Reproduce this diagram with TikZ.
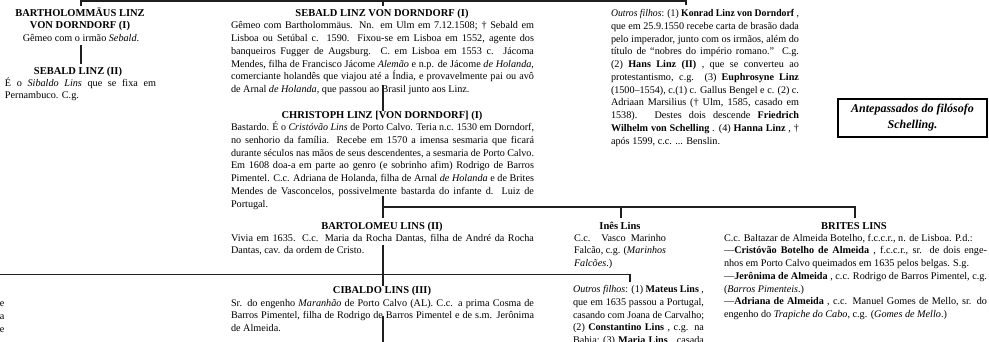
\documentclass[tikz,border=0pt]{standalone}
\usepackage{fontspec}
\setmainfont{Liberation Serif}
\usepackage{graphicx}
\newlength\jw
\newlength\LW
\newcommand\jline[1]{\settowidth{\jw}{#1}\ifdim\jw>\LW\resizebox{\LW}{\height}{#1}\else\makebox[\LW][s]{#1}\fi\par}
\newcommand\jlast[1]{\settowidth{\jw}{#1}\ifdim\jw>\LW\resizebox{\LW}{\height}{#1}\else\mbox{#1}\fi\par}
\newcommand\tblock[2]{\vtop{\setlength\LW{#1}\hsize=\LW\parindent=0pt\parskip=0pt\fontsize{10.2}{12.77}\selectfont #2}}
\tikzset{
  ttl/.style={anchor=base, inner sep=0pt, outer sep=0pt, font=\fontsize{10.5}{12}\selectfont\bfseries},
  txt/.style={anchor=base west, inner sep=0pt, outer sep=0pt},
  bodyc/.style={anchor=base, inner sep=0pt, outer sep=0pt, font=\fontsize{10.2}{12.77}\selectfont},
  conn/.style={line width=1.2pt, draw=black!88},
  notebox/.style={draw=black, line width=2pt, inner sep=0pt, minimum width=149pt, minimum height=38.5pt, align=center,
    font=\fontsize{12}{15.5}\selectfont\bfseries\itshape}
}
\begin{document}
\begin{tikzpicture}[x=1pt,y=-1pt]
\useasboundingbox (0,0) rectangle (989,341);
\clip (0,0) rectangle (989,341);

% ---------- row 1 ----------
\node[ttl] (bartA) at (80,16.5) {BARTHOLOMMÄUS LINZ};
\node[ttl] (bartB) at (80,28.8) {VON DORNDORF (I)};
\node[bodyc] (bartC) at (81,41.5) {Gêmeo com o irmão \textit{Sebald}.};
\node[ttl] (sebII) at (78,74.5) {SEBALD LINZ (II)};
\node[txt] (sebIIt) at (5,86) {\tblock{151pt}{%
\jline{É o \textit{Sibaldo Lins} que se fixa em}
\jlast{Pernambuco. C.g.}}};

\node[ttl] (sebI) at (382,16.5) {SEBALD LINZ VON DORNDORF (I)};
\node[txt] (sebIt) at (231,28.8) {\tblock{303pt}{%
\jline{Gêmeo com Bartholommäus. Nn. em Ulm em 7.12.1508; † Sebald em}
\jline{Lisboa ou Setúbal c. 1590. Fixou-se em Lisboa em 1552, agente dos}
\jline{banqueiros Fugger de Augsburg. C. em Lisboa em 1553 c. Jácoma}
\jline{Mendes, filha de Francisco Jácome \textit{Alemão} e n.p. de Jácome \textit{de Holanda},}
\jline{comerciante holandês que viajou até a Índia, e provavelmente pai ou avô}
\jlast{de Arnal \textit{de Holanda}, que passou ao Brasil junto aos Linz.}}};

\node[txt] (outA) at (611,16.5) {\tblock{188pt}{%
\jline{\textit{Outros filhos}: (1) \textbf{Konrad Linz von Dorndorf} ,}
\jline{que em 25.9.1550 recebe carta de brasão dada}
\jline{pelo imperador, junto com os irmãos, além do}
\jline{título de “nobres do império romano.” C.g.}
\jline{(2) \textbf{Hans Linz (II)} , que se converteu ao}
\jline{protestantismo, c.g. (3) \textbf{Euphrosyne Linz}}
\jline{(1500–1554), c.(1) c. Gallus Bengel e c. (2) c.}
\jline{Adriaan Marsilius († Ulm, 1585, casado em}
\jline{1538). Destes dois descende \textbf{Friedrich}}
\jline{\textbf{Wilhelm von Schelling} . (4) \textbf{Hanna Linz} , †}
\jlast{após 1599, c.c. ... Benslin.}}};

\node[notebox] (note) at (912.5,117.75) {Antepassados do filósofo\\Schelling.};

\node[ttl] (chr) at (382,118.5) {CHRISTOPH LINZ [VON DORNDORF] (I)};
\node[txt] (chrt) at (231,130.5) {\tblock{303pt}{%
\jline{Bastardo. É o \textit{Cristóvão Lins} de Porto Calvo. Teria n.c. 1530 em Dorndorf,}
\jline{no senhorio da família. Recebe em 1570 a imensa sesmaria que ficará}
\jline{durante séculos nas mãos de seus descendentes, a sesmaria de Porto Calvo.}
\jline{Em 1608 doa-a em parte ao genro (e sobrinho afim) Rodrigo de Barros}
\jline{Pimentel. C.c. Adriana de Holanda, filha de Arnal \textit{de Holanda} e de Brites}
\jline{Mendes de Vasconcelos, possivelmente bastarda do infante d. Luiz de}
\jlast{Portugal.}}};

% ---------- row 2 ----------
\node[ttl] (bart2) at (382,229) {BARTOLOMEU LINS (II)};
\node[txt] (bart2t) at (231,241) {\tblock{303pt}{%
\jline{Vivia em 1635. C.c. Maria da Rocha Dantas, filha de André da Rocha}
\jlast{Dantas, cav. da ordem de Cristo.}}};

\node[ttl] (ines) at (620,229) {Inês Lins};
\node[txt] (inest) at (574,241) {\tblock{92pt}{%
\jline{C.c. Vasco Marinho}
\jline{Falcão, c.g. (\textit{Marinhos}}
\jlast{\textit{Falcões}.)}}};

\node[ttl] (brites) at (854,229) {BRITES LINS};
\node[txt] (britest) at (724,241) {\tblock{263pt}{%
\jlast{C.c. Baltazar de Almeida Botelho, f.c.c.r., n. de Lisboa. P.d.:}
\jline{—\textbf{Cristóvão Botelho de Almeida} , f.c.c.r., sr. de dois enge-}
\jlast{nhos em Porto Calvo queimados em 1635 pelos belgas. S.g.}
\jline{—\textbf{Jerônima de Almeida} , c.c. Rodrigo de Barros Pimentel, c.g.}
\jlast{(\textit{Barros Pimenteis}.)}
\jline{—\textbf{Adriana de Almeida} , c.c. Manuel Gomes de Mello, sr. do}
\jlast{engenho do \textit{Trapiche do Cabo}, c.g. (\textit{Gomes de Mello}.)}}};

% ---------- row 3 ----------
\node[ttl] (cib) at (382,293.5) {CIBALDO LINS (III)};
\node[txt] (cibt) at (231,306) {\tblock{303pt}{%
\jline{Sr. do engenho \textit{Maranhão} de Porto Calvo (AL). C.c. a prima Cosma de}
\jline{Barros Pimentel, filha de Rodrigo de Barros Pimentel e de s.m. Jerônima}
\jlast{de Almeida.}}};

\node[txt] (outB) at (573,292.5) {\tblock{131pt}{%
\jline{\textit{Outros filhos}: (1) \textbf{Mateus Lins} ,}
\jline{que em 1635 passou a Portugal,}
\jline{casando com Joana de Carvalho;}
\jline{(2) \textbf{Constantino Lins} , c.g. na}
\jline{Bahia; (3) \textbf{Maria Lins} , casada}}};

\node[bodyc, anchor=base east] (cutA) at (4.5,306) {e};
\node[bodyc, anchor=base east] (cutB) at (4.5,319) {a};
\node[bodyc, anchor=base east] (cutC) at (4.5,332) {e};

% ---------- connectors ----------
\coordinate (t1a) at (81,6);   \coordinate (t1b) at (81,1);
\coordinate (t1c) at (686,1);  \coordinate (t1d) at (686,5);
\coordinate (t1e) at (383,1);  \coordinate (t1f) at (383,6);
\draw[conn] (t1a) -- (t1b) -- (t1c) -- (t1d);
\draw[conn] (t1e) -- (t1f);

\coordinate (v1a) at (81,45);  \coordinate (v1b) at (81,63.5);
\draw[conn] (v1a) -- (v1b);

\coordinate (v2a) at (383,85); \coordinate (v2b) at (383,111);
\draw[conn] (v2a) -- (v2b);

\coordinate (v3a) at (383,196); \coordinate (v3b) at (383,218);
\coordinate (h2a) at (383,207); \coordinate (h2b) at (855,207);
\coordinate (h2c) at (621,207); \coordinate (h2d) at (621,218);
\coordinate (h2e) at (855,218);
\draw[conn] (v3a) -- (v3b);
\draw[conn] (h2a) -- (h2b) -- (h2e);
\draw[conn] (h2c) -- (h2d);

\coordinate (v4a) at (383,245); \coordinate (v4b) at (383,286);
\coordinate (h3a) at (-2,274.5); \coordinate (h3b) at (630,274.5);
\coordinate (h3c) at (630,282);
\draw[conn] (v4a) -- (v4b);
\draw[conn] (h3a) -- (h3b) -- (h3c);

\coordinate (v5a) at (383,316); \coordinate (v5b) at (383,345);
\draw[conn] (v5a) -- (v5b);
\end{tikzpicture}
\end{document}
